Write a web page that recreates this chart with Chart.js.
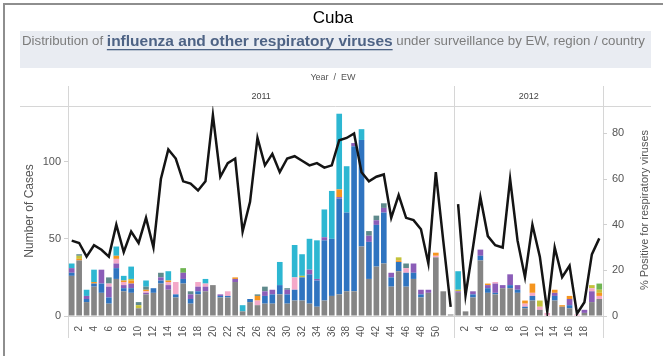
<!DOCTYPE html>
<html>
<head>
<meta charset="utf-8">
<title>Cuba - respiratory viruses by EW</title>
<script src="https://cdn.jsdelivr.net/npm/chart.js@4.4.0/dist/chart.umd.min.js"></script>
<style>
    html, body { margin: 0; padding: 0; background: #ffffff; }
    #wrap { position: relative; width: 663px; height: 356px; }
</style>
</head>
<body>
<div id="wrap"><canvas id="fluChart" width="663" height="356"></canvas></div>
<script>
// Epidemiological weeks shown in each year pane
var weeks2011 = Array.from({ length: 52 }, function (_, i) { return i + 1; });
var weeks2012 = Array.from({ length: 20 }, function (_, i) { return i + 1; });
var years = ['2011', '2012'];
var labelledWeeks2011 = [2, 4, 6, 8, 10, 12, 14, 16, 18, 20, 22, 24, 26, 28, 30, 32, 34, 36, 38, 40, 42, 44, 46, 48, 50];
var labelledWeeks2012 = [2, 4, 6, 8, 10, 12, 14, 16, 18];

// Number of cases per virus, 2011 weeks 1-52 followed by 2012 weeks 1-20
var rsvCases = [
    26, 36, 9, 19, 15, 8, 24, 16, 15, 5, 14, 15, 21, 17, 12, 21, 8, 14, 16, 20,
    12, 12, 22, 3, 9, 7, 8, 8, 14, 8, 10, 10, 8, 6, 10, 13, 14, 16, 16, 45,
    24, 32, 34, 19, 29, 19, 24, 12, 15, 38, 16, 1,
    15, 3, 12, 36, 15, 14, 18, 18, 15, 5, 10, 4, 0, 10, 6, 5, 0, 2, 9, 11
];
var h3n2Cases = [
    2, 0, 2, 2, 6, 4, 7, 2, 3, 0, 0, 3, 2, 0, 2, 3, 3, 2, 0, 0,
    1, 1, 0, 0, 2, 0, 5, 6, 6, 6, 7, 15, 19, 17, 39, 37, 62, 51, 94, 69,
    24, 27, 33, 6, 6, 9, 4, 2, 0, 0, 0, 0,
    0, 0, 2, 3, 3, 1, 0, 2, 2, 1, 3, 0, 0, 3, 0, 2, 0, 0, 0, 0
];
var parainfluenzaCases = [
    3, 0, 2, 0, 9, 7, 3, 2, 3, 0, 1, 0, 2, 3, 0, 4, 3, 3, 3, 0,
    1, 0, 2, 0, 0, 0, 3, 3, 0, 3, 0, 0, 3, 1, 2, 0, 1, 0, 2, 0,
    4, 3, 3, 3, 0, 0, 6, 3, 2, 0, 0, 0,
    1, 0, 2, 4, 2, 6, 2, 7, 3, 0, 0, 0, 0, 2, 0, 4, 0, 2, 7, 0
];
var adenovirusCases = [
    0, 0, 0, 0, 0, 2, 3, 2, 0, 0, 1, 0, 0, 2, 8, 0, 0, 3, 2, 0,
    0, 3, 0, 0, 0, 3, 0, 0, 0, 0, 8, 0, 0, 0, 0, 0, 0, 0, 0, 0,
    0, 0, 0, 0, 0, 3, 0, 0, 0, 1, 0, 0,
    0, 0, 0, 0, 0, 1, 0, 0, 0, 2, 2, 2, 2, 0, 0, 0, 1, 0, 2, 2
];
var fluBCases = [
    0, 1, 0, 1, 0, 0, 2, 1, 2, 0, 1, 0, 0, 1, 0, 0, 0, 0, 0, 0,
    0, 0, 1, 0, 0, 3, 0, 0, 0, 0, 0, 0, 0, 0, 0, 0, 5, 0, 0, 0,
    0, 0, 0, 0, 1, 0, 0, 0, 0, 2, 0, 0,
    0, 0, 0, 0, 1, 0, 0, 0, 0, 2, 6, 0, 0, 2, 1, 2, 0, 0, 0, 2
];
var notSubtypedCases = [
    0, 2, 0, 0, 0, 0, 0, 0, 1, 2, 0, 0, 0, 0, 0, 0, 0, 0, 0, 0,
    0, 0, 0, 0, 0, 0, 0, 0, 0, 0, 0, 1, 0, 0, 0, 0, 0, 0, 0, 0,
    0, 0, 0, 0, 2, 0, 0, 0, 0, 0, 0, 0,
    1, 0, 0, 0, 0, 0, 0, 0, 0, 0, 0, 4, 0, 0, 0, 0, 0, 0, 2, 2
];
var metapneumoCases = [
    0, 0, 0, 0, 0, 0, 0, 0, 0, 0, 0, 0, 0, 0, 0, 3, 0, 0, 0, 0,
    0, 0, 0, 0, 0, 0, 0, 0, 0, 0, 0, 0, 0, 0, 0, 0, 0, 0, 0, 0,
    0, 0, 0, 0, 0, 0, 0, 0, 0, 0, 0, 0,
    0, 0, 0, 0, 0, 0, 0, 0, 0, 0, 0, 0, 0, 0, 0, 0, 0, 0, 0, 4
];
var otherCases = [
    0, 1, 0, 0, 0, 4, 0, 0, 0, 2, 2, 0, 3, 0, 0, 0, 2, 0, 0, 0,
    0, 0, 0, 0, 0, 1, 3, 0, 0, 1, 0, 0, 0, 0, 0, 0, 0, 0, 0, 0,
    3, 3, 3, 0, 0, 3, 0, 0, 0, 0, 0, 0,
    0, 0, 0, 0, 0, 0, 0, 0, 0, 0, 0, 0, 0, 0, 0, 0, 0, 0, 0, 0
];
var h1n1Cases = [
    3, 0, 4, 8, 0, 0, 6, 3, 8, 0, 4, 0, 0, 6, 0, 0, 0, 0, 3, 0,
    0, 0, 0, 4, 0, 0, 0, 0, 15, 0, 21, 14, 20, 25, 18, 31, 49, 30, 0, 7,
    0, 0, 0, 0, 0, 0, 0, 0, 0, 0, 0, 0,
    12, 0, 0, 0, 0, 0, 0, 0, 0, 0, 0, 0, 0, 0, 0, 0, 0, 0, 0, 0
];

// % positive for respiratory viruses
var positive2011 = [
    33, 32, 26, 31, 29, 26, 40, 28, 37, 32, 43, 30, 60, 73, 69, 59, 58, 55, 59, 88,
    61, 67, 69, 37, 50, 78, 66, 71, 63, 69, 70, 68, 66, 67, 65, 66, 77, 78, 80, 63,
    59, 61, 62, 43, 53, 43, 42, 38, 23, 63, 33, 4
];
var positive2012 = [49, 9, 30, 52, 35, 31, 30, 60, 33, 17, 40, 26, 2, 30, 17, 22, 1, 6, 27, 34];

var weeks = weeks2011.concat(weeks2012);
var split = weeks2011.length;

var seriesList = [
    { label: 'VSR', data: rsvCases, color: '#858585' },
    { label: 'A(H3N2)', data: h3n2Cases, color: '#2f74c0' },
    { label: 'Parainfluenza', data: parainfluenzaCases, color: '#8b5db8' },
    { label: 'Adenovirus', data: adenovirusCases, color: '#f4a8c8' },
    { label: 'Influenza B', data: fluBCases, color: '#f5951f' },
    { label: 'A no subtipificado', data: notSubtypedCases, color: '#c4c23a' },
    { label: 'Metapneumovirus', data: metapneumoCases, color: '#6fb552' },
    { label: 'Otros virus', data: otherCases, color: '#5f8a8c' },
    { label: 'A(H1N1)pdm09', data: h1n1Cases, color: '#2db7d2' }
];

var datasets = seriesList.map(function (s) {
    return {
        type: 'bar',
        label: s.label,
        data: s.data,
        backgroundColor: s.color,
        borderWidth: 0,
        barPercentage: 0.76,
        categoryPercentage: 1,
        yAxisID: 'yCases',
        order: 1
    };
});

// the % positive line is broken between the two year panes
var pad2012 = weeks2012.map(function () { return null; });
var pad2011 = weeks2011.map(function () { return null; });
[positive2011.concat(pad2012), pad2011.concat(positive2012)].forEach(function (vals) {
    datasets.push({
        type: 'line',
        label: '% Positive',
        data: vals,
        borderColor: '#141414',
        borderWidth: 2.5,
        pointRadius: 0,
        tension: 0,
        spanGaps: false,
        yAxisID: 'yPct',
        order: 0
    });
});

var FONT = '"Liberation Sans", Arial, sans-serif';

var headerPlugin = {
    id: 'paneHeader',
    beforeDraw: function (chart) {
        var ctx = chart.ctx;
        var area = chart.chartArea;
        var xs = chart.scales.x;
        var splitX = (xs.getPixelForValue(split - 1) + xs.getPixelForValue(split)) / 2;

        ctx.save();
        // frame
        ctx.strokeStyle = '#8e8e8e';
        ctx.lineWidth = 2;
        ctx.beginPath();
        ctx.moveTo(4, 356);
        ctx.lineTo(4, 4);
        ctx.lineTo(663, 4);
        ctx.stroke();

        // title
        ctx.fillStyle = '#000000';
        ctx.font = '17px ' + FONT;
        ctx.textAlign = 'center';
        ctx.textBaseline = 'middle';
        ctx.fillText('Cuba', 333, 18);

        // subtitle band
        ctx.fillStyle = '#e9ecf2';
        ctx.fillRect(20, 31, 631, 37);
        var parts = [
            { text: 'Distribution of ', font: '12px ' + FONT, color: '#7c7c7c' },
            { text: 'influenza and other respiratory viruses', font: 'bold 14px ' + FONT, color: '#4e6385', underline: true },
            { text: ' under surveillance by EW, region / country', font: '12px ' + FONT, color: '#7c7c7c' }
        ];
        var total = 0;
        parts.forEach(function (p) {
            ctx.font = p.font;
            p.w = ctx.measureText(p.text).width;
            total += p.w;
        });
        ctx.save();
        ctx.translate(22, 42);
        ctx.scale(623 / total, 1);
        ctx.textAlign = 'left';
        ctx.textBaseline = 'middle';
        var cx = 0;
        parts.forEach(function (p) {
            ctx.font = p.font;
            ctx.fillStyle = p.color;
            ctx.fillText(p.text, cx, 0);
            if (p.underline) {
                ctx.fillRect(cx, 7, p.w, 1.3);
            }
            cx += p.w;
        });
        ctx.restore();

        // column header
        ctx.fillStyle = '#555555';
        ctx.font = '9px ' + FONT;
        ctx.textAlign = 'center';
        ctx.fillText('Year  /  EW', 333, 78);
        ctx.fillStyle = '#444444';
        ctx.fillText(years[0], (area.left + splitX) / 2, 97);
        ctx.fillText(years[1], (splitX + area.right) / 2, 97);

        ctx.strokeStyle = '#d6d6d6';
        ctx.lineWidth = 1;
        ctx.beginPath();
        ctx.moveTo(20, 106.5);
        ctx.lineTo(651, 106.5);
        [area.left, splitX, area.right].forEach(function (px) {
            px = Math.round(px) + 0.5;
            ctx.moveTo(px, 86);
            ctx.lineTo(px, 338);
        });
        ctx.stroke();

        // axis titles
        ctx.fillStyle = '#555555';
        ctx.save();
        ctx.translate(30, 211);
        ctx.rotate(-Math.PI / 2);
        ctx.font = '12px ' + FONT;
        ctx.fillText('Number of Cases', 0, 0);
        ctx.restore();
        ctx.save();
        ctx.translate(645, 210);
        ctx.rotate(-Math.PI / 2);
        ctx.font = '11px ' + FONT;
        ctx.fillText('% Positive for respiratory viruses', 0, 0);
        ctx.restore();

        ctx.restore();
    }
};

var ctxEl = document.getElementById('fluChart').getContext('2d');
var fluChart = new Chart(ctxEl, {
    data: {
        labels: weeks,
        datasets: datasets
    },
    options: {
        responsive: false,
        animation: false,
        devicePixelRatio: 1,
        layout: { padding: { top: 106, left: 0, right: 0, bottom: 0 } },
        plugins: {
            legend: { display: false },
            tooltip: { enabled: false }
        },
        scales: {
            x: {
                stacked: true,
                offset: true,
                grid: { display: false },
                border: { display: true, color: '#d0d0d0' },
                ticks: {
                    autoSkip: false,
                    minRotation: 90,
                    maxRotation: 90,
                    padding: 2,
                    color: '#555555',
                    font: { family: FONT, size: 10 },
                    callback: function (value, index) {
                        var w = weeks[index];
                        var shown = index < split ? labelledWeeks2011 : labelledWeeks2012;
                        return shown.indexOf(w) >= 0 ? String(w) : '';
                    }
                },
                afterFit: function (scale) { scale.height = 40; }
            },
            yCases: {
                position: 'left',
                stacked: true,
                min: 0,
                max: 136,
                grid: { drawOnChartArea: false, tickLength: 4, color: '#d0d0d0' },
                border: { display: false },
                ticks: {
                    stepSize: 50,
                    includeBounds: false,
                    padding: 3,
                    color: '#555555',
                    font: { family: FONT, size: 11 }
                },
                afterFit: function (scale) { scale.width = 68; }
            },
            yPct: {
                position: 'right',
                min: 0,
                max: 92,
                grid: { drawOnChartArea: false, tickLength: 4, color: '#d0d0d0' },
                border: { display: false },
                ticks: {
                    stepSize: 20,
                    includeBounds: false,
                    padding: 5,
                    color: '#555555',
                    font: { family: FONT, size: 11 }
                },
                afterFit: function (scale) { scale.width = 60; }
            }
        }
    },
    plugins: [headerPlugin]
});
</script>
</body>
</html>
